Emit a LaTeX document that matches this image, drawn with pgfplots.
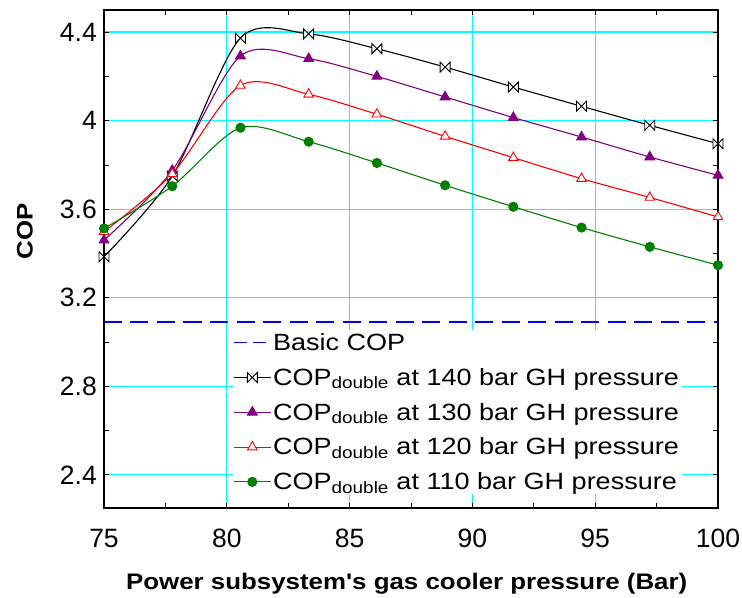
\documentclass[border=0pt]{standalone}
\usepackage{pgfplots}
\pgfplotsset{compat=1.18}
\usepackage{fontspec}
\setmainfont{Liberation Sans}
\newfontfamily\lblfont[FakeStretch=1.15]{Liberation Sans}
\newfontfamily\tickfont{Liberation Sans}

\pgfdeclareplotmark{bowtie}{%
  \pgfpathmoveto{\pgfqpoint{-\pgfplotmarksize}{\pgfplotmarksize}}%
  \pgfpathlineto{\pgfqpoint{-\pgfplotmarksize}{-\pgfplotmarksize}}%
  \pgfpathlineto{\pgfqpoint{\pgfplotmarksize}{\pgfplotmarksize}}%
  \pgfpathlineto{\pgfqpoint{\pgfplotmarksize}{-\pgfplotmarksize}}%
  \pgfpathclose
  \pgfusepathqfillstroke}

\definecolor{cpurple}{RGB}{128,0,128}
\definecolor{cgreen}{RGB}{0,128,0}
\definecolor{cblue}{RGB}{0,0,255}
\definecolor{cred}{RGB}{255,0,0}
\definecolor{ccyan}{RGB}{0,255,255}

\pgfplotstableread{
x y
75.000 3.385
77.778 3.750
80.556 4.373
83.333 4.392
86.111 4.325
88.889 4.242
91.667 4.152
94.444 4.065
97.222 3.979
100.000 3.896
}\tblA
\pgfplotstableread{
x y
75.000 3.460
77.778 3.775
80.556 4.292
83.333 4.280
86.111 4.200
88.889 4.107
91.667 4.014
94.444 3.926
97.222 3.836
100.000 3.753
}\tblB
\pgfplotstableread{
x y
75.000 3.498
77.778 3.760
80.556 4.159
83.333 4.119
86.111 4.029
88.889 3.929
91.667 3.833
94.444 3.738
97.222 3.653
100.000 3.565
}\tblC
\pgfplotstableread{
x y
75.000 3.513
77.778 3.704
80.556 3.968
83.333 3.905
86.111 3.809
88.889 3.708
91.667 3.611
94.444 3.517
97.222 3.430
100.000 3.347
}\tblD

\begin{document}
\begin{tikzpicture}
\begin{axis}[
  scale only axis, width=614bp, height=498bp,
  xmin=75, xmax=100, ymin=2.25, ymax=4.5,
  xtick={75,80,85,90,95,100},
  minor xtick={77.5,82.5,87.5,92.5,97.5},
  ytick={2.4,2.8,3.2,3.6,4.0,4.4},
  minor ytick={2.6,3.0,3.4,3.8,4.2},
  grid=major,
  major grid style={ccyan, line width=1.3bp},
  tick align=inside,
  major tick length=5bp, minor tick length=5bp,
  tick style={black, line width=0.8bp},
  axis line style={black, line width=1.6bp},
  /pgf/number format/assume math mode=true,
  ticklabel style={font=\tickfont\fontsize{26.5bp}{30bp}\selectfont, inner sep=0pt},
  xticklabel style={anchor=base, yshift=-39bp},
  yticklabel style={anchor=east, xshift=-7bp},
  xlabel={\bfseries Power subsystem's gas cooler pressure (Bar)},
  ylabel={\bfseries COP},
  label style={font=\lblfont\fontsize{22.5bp}{27bp}\selectfont},
  xlabel style={at={(axis description cs:0.493,-0.163)}, anchor=base},
  ylabel style={at={(axis description cs:-0.129,0.555)}, anchor=center},
  legend cell align=left,
  legend style={at={(rel axis cs:0.209,0.357)}, anchor=north west,
    draw=none, fill=white, inner sep=1bp, row sep=12.3bp,
    font=\lblfont\fontsize{23.5bp}{27bp}\selectfont},
  legend image code/.code={%
    \draw[mark repeat=2,mark phase=2,#1] plot coordinates {(0bp,0bp) (18bp,0bp) (36bp,0bp)};},
  every axis plot/.append style={line width=1.1bp},
]
\addplot[cblue, line width=1.9bp, dash pattern=on 18bp off 8.5bp, forget plot] coordinates {(75,3.092) (100,3.092)};
\addlegendimage{cblue, dash pattern=on 13bp off 6bp, line width=1.6bp}
\addlegendentry{Basic COP}
\addplot[black, smooth, mark=bowtie, mark size=5bp, mark options={fill=white, solid, line width=0.9bp}] table[x=x,y=y]{\tblA};
\addlegendentry{COP\textsubscript{double} at 140 bar GH pressure}
\addplot[cpurple, smooth, mark=triangle*, mark size=5.5bp, mark options={fill=cpurple, solid}] table[x=x,y=y]{\tblB};
\addlegendentry{COP\textsubscript{double} at 130 bar GH pressure}
\addplot[cred, smooth, mark=triangle*, mark size=5.5bp, mark options={fill=white, solid, line width=0.9bp}] table[x=x,y=y]{\tblC};
\addlegendentry{COP\textsubscript{double} at 120 bar GH pressure}
\addplot[cgreen, smooth, mark=*, mark size=4.5bp, mark options={fill=cgreen, solid}] table[x=x,y=y]{\tblD};
\addlegendentry{COP\textsubscript{double} at 110 bar GH pressure}
\end{axis}
\path ([xshift=-104bp,yshift=-88bp]current axis.south west) rectangle ([xshift=24bp,yshift=10bp]current axis.north east);
\end{tikzpicture}
\end{document}
